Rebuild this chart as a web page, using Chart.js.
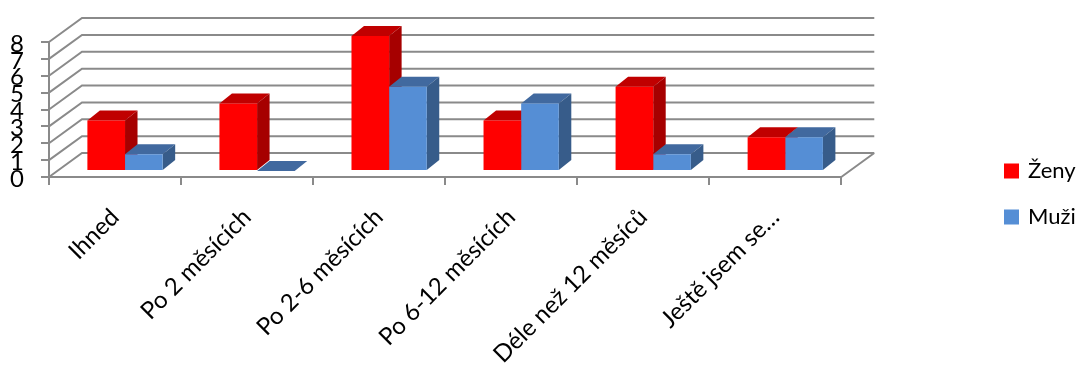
<!DOCTYPE html>
<html>
<head>
<meta charset="utf-8">
<title>Graf</title>
<script src="https://cdn.jsdelivr.net/npm/chart.js@4"></script>
<style>
  html, body { margin: 0; padding: 0; background: #fff; }
  canvas { display: block; }
</style>
</head>
<body>
<canvas id="chart" width="1081" height="368"></canvas>
<script>
const categories = ["Ihned", "Po 2 měsících", "Po 2-6 měsících", "Po 6-12 měsících", "Déle než 12 měsíců", "Ještě jsem se…"];
const zenyValues = [3, 4, 8, 3, 5, 2];
const muziValues = [1, 0, 5, 4, 1, 2];
const yTicks = [0, 1, 2, 3, 4, 5, 6, 7, 8];

const axisColor = "#8a8a8a";
const fontName = "Lato, Carlito, sans-serif";

// how far the back wall sits from the front axes
const wallDx = 33;
const wallDy = -24;
// bars stand a bit inside the floor, and have their own depth
const barShiftX = 10;
const barShiftY = -6;
const barDepthX = 12.5;
const barDepthY = -10;
// legend box, well to the right of the plot
const legendBox = { left: 982, right: 1081, top: 42, bottom: 346 };

const walls = {
  id: "walls",
  beforeDatasetsDraw(chart) {
    const { ctx, chartArea, scales } = chart;
    ctx.save();
    ctx.strokeStyle = axisColor;
    ctx.lineWidth = 2;
    ctx.beginPath();
    yTicks.forEach((t) => {
      const y = scales.y.getPixelForValue(t);
      ctx.moveTo(chartArea.left, y);
      ctx.lineTo(chartArea.left + wallDx, y + wallDy);
      ctx.lineTo(chartArea.right + wallDx, y + wallDy);
    });
    // right edge of the floor
    ctx.moveTo(chartArea.right, chartArea.bottom);
    ctx.lineTo(chartArea.right + wallDx, chartArea.bottom + wallDy);
    ctx.stroke();
    ctx.restore();
  },
};

const bars3d = {
  id: "bars3d",
  // top and side faces go first, red series before blue, the library then paints the fronts
  beforeDatasetsDraw(chart) {
    const { ctx } = chart;
    ctx.save();
    ctx.translate(barShiftX, barShiftY);
    chart.data.datasets.forEach((ds, i) => {
      chart.getDatasetMeta(i).data.forEach((bar) => {
        const left = bar.x - bar.width / 2;
        const right = bar.x + bar.width / 2;
        ctx.fillStyle = ds.topColor;
        ctx.beginPath();
        ctx.moveTo(left, bar.y);
        ctx.lineTo(left + barDepthX, bar.y + barDepthY);
        ctx.lineTo(right + barDepthX, bar.y + barDepthY);
        ctx.lineTo(right, bar.y);
        ctx.fill();
        ctx.fillStyle = ds.sideColor;
        ctx.beginPath();
        ctx.moveTo(right, bar.y);
        ctx.lineTo(right + barDepthX, bar.y + barDepthY);
        ctx.lineTo(right + barDepthX, bar.base + barDepthY);
        ctx.lineTo(right, bar.base);
        ctx.fill();
      });
    });
    ctx.restore();
  },
  beforeDatasetDraw(chart) {
    chart.ctx.save();
    chart.ctx.translate(barShiftX, barShiftY);
  },
  afterDatasetDraw(chart) {
    chart.ctx.restore();
  },
};

const legendPlace = {
  id: "legendPlace",
  afterLayout(chart) {
    Object.assign(chart.legend, legendBox);
  },
};

new Chart(document.getElementById("chart"), {
  type: "bar",
  data: {
    labels: categories,
    datasets: [
      { label: "Ženy", data: zenyValues, backgroundColor: "#ff0000", topColor: "#c00000", sideColor: "#a60000", clip: false },
      { label: "Muži", data: muziValues, backgroundColor: "#558ed5", topColor: "#41699f", sideColor: "#375c8a", clip: false },
    ],
  },
  plugins: [walls, bars3d, legendPlace],
  options: {
    responsive: false,
    animation: false,
    events: [],
    layout: { padding: { top: 42, left: 0, right: 136, bottom: 0 } },
    datasets: { bar: { categoryPercentage: 0.57, barPercentage: 1 } },
    scales: {
      x: {
        grid: { drawOnChartArea: false, color: axisColor, lineWidth: 2, tickLength: 8 },
        border: { color: axisColor, width: 2 },
        ticks: {
          autoSkip: false,
          minRotation: 45,
          maxRotation: 45,
          padding: 18,
          color: "#000",
          font: { family: fontName, size: 24 },
        },
        afterFit(scale) { scale.height = 191; },
      },
      y: {
        min: 0,
        max: 8,
        grid: { drawOnChartArea: false, color: axisColor, lineWidth: 2, tickLength: 8 },
        border: { color: axisColor, width: 2 },
        ticks: {
          autoSkip: false,
          stepSize: 1,
          padding: 17,
          labelOffset: 2,
          color: "#000",
          font: { family: fontName, size: 24 },
        },
        afterFit(scale) { scale.width = 49; },
      },
    },
    plugins: {
      legend: {
        position: "right",
        labels: {
          boxWidth: 11,
          boxHeight: 11,
          padding: 24,
          color: "#000",
          font: { family: fontName, size: 22 },
          // thick outline in the fill colour keeps the swatch 15px while the text sits close to it
          generateLabels: (chart) => chart.data.datasets.map((ds, i) => ({
            text: ds.label,
            fillStyle: ds.backgroundColor,
            strokeStyle: ds.backgroundColor,
            lineWidth: 4,
            datasetIndex: i,
          })),
        },
      },
      tooltip: { enabled: false },
    },
  },
});
</script>
</body>
</html>
